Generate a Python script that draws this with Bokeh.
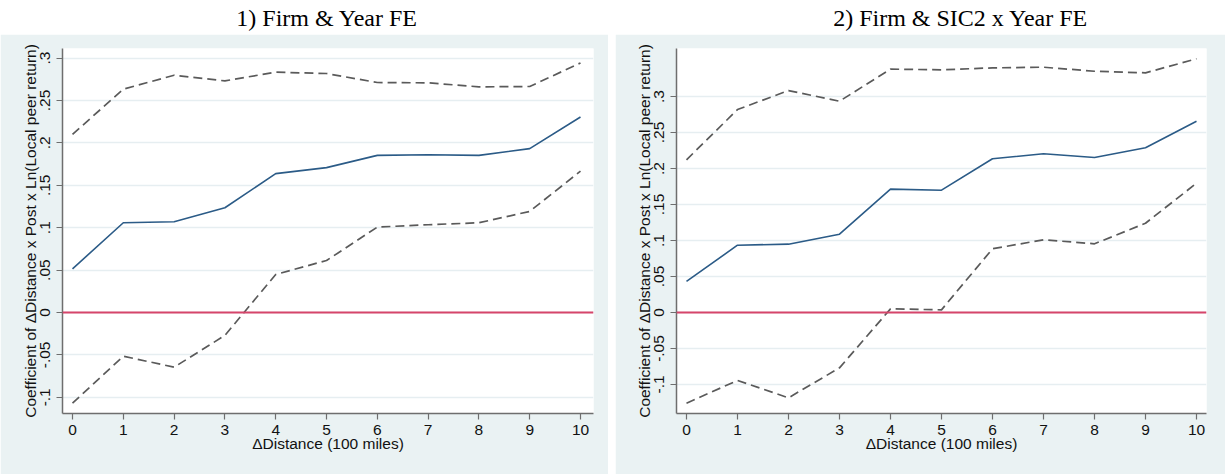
import math
from bokeh.plotting import figure
from bokeh.layouts import row, column
from bokeh.models import FixedTicker, Span
from bokeh.core.properties import value
from bokeh.embed import file_html
from bokeh.resources import INLINE

# ---------------- data ----------------
distance = [0, 1, 2, 3, 4, 5, 6, 7, 8, 9, 10]
x_tick_labels = ["0", "1", "2", "3", "4", "5", "6", "7", "8", "9", "10"]

y_ticks = [-0.1, -0.05, 0.0, 0.05, 0.1, 0.15, 0.2, 0.25, 0.3]
y_tick_labels = ["-.1", "-.05", "0", ".05", ".1", ".15", ".2", ".25", ".3"]

titles = ["1) Firm & Year FE", "2) Firm & SIC2 x Year FE"]
x_title = "\u0394Distance (100 miles)"
y_title = "Coefficient of \u0394Distance x Post x Ln(Local peer return)"

fe_coef = [0.0515, 0.1058, 0.1070, 0.1235, 0.1638, 0.1708, 0.1853, 0.1861, 0.1853, 0.1932, 0.2305]
fe_upper = [0.2101, 0.2633, 0.2798, 0.2731, 0.2834, 0.2818, 0.2712, 0.2708, 0.2661, 0.2665, 0.2943]
fe_lower = [-0.1069, -0.0515, -0.0645, -0.0270, 0.0448, 0.0613, 0.1007, 0.1035, 0.1058, 0.1192, 0.1667]

sic_coef = [0.0431, 0.0935, 0.0949, 0.1088, 0.1713, 0.1699, 0.2135, 0.2204, 0.2153, 0.2288, 0.2657]
sic_upper = [0.2121, 0.2819, 0.3083, 0.2935, 0.3380, 0.3371, 0.3398, 0.3407, 0.3351, 0.3329, 0.3524]
sic_lower = [-0.1260, -0.0944, -0.1185, -0.0769, 0.0051, 0.0037, 0.0885, 0.1010, 0.0954, 0.1240, 0.1796]

zero_level = 0.0

# ---------------- style ----------------
BG = "#EAF2F3"
GRID = "#E6EEF1"
NAVY = "#2B5B87"
GRAY = "#5A5A5A"
RED = "#D6456A"
AXIS = "#6E6E6E"
FONT = "Liberation Sans"
TITLE_H = 34
PLOT_H = 440


def title_fig(width, cx, text):
    tf = figure(width=width, height=TITLE_H, x_range=(0, width), y_range=(0, TITLE_H),
                x_axis_type=None, y_axis_type=None, toolbar_location=None,
                output_backend="svg", min_border=0, outline_line_color=None,
                background_fill_color="white", border_fill_color="white")
    tf.text(x=[cx], y=[TITLE_H - 17], text=[text], text_font=value("Liberation Serif"),
            text_font_size="24px", text_align="center", text_baseline="middle",
            text_color="black")
    return tf


def panel(width, left, right, xr, yr, coef, upper, lower):
    p = figure(width=width, height=PLOT_H, x_range=xr, y_range=yr,
               toolbar_location=None, output_backend="svg",
               min_border_left=left, min_border_right=right,
               min_border_top=14, min_border_bottom=61,
               background_fill_color="white", border_fill_color=BG,
               outline_line_color=None)
    p.xgrid.visible = False
    p.ygrid.ticker = FixedTicker(ticks=y_ticks)
    p.ygrid.grid_line_color = GRID
    p.ygrid.grid_line_width = 1.5

    p.xaxis.ticker = FixedTicker(ticks=distance)
    p.xaxis.major_label_overrides = dict(zip(distance, x_tick_labels))
    p.yaxis.ticker = FixedTicker(ticks=y_ticks)
    p.yaxis.major_label_overrides = dict(zip(y_ticks, y_tick_labels))
    p.yaxis.major_label_orientation = "parallel"

    for ax in (p.xaxis, p.yaxis):
        ax.axis_line_color = AXIS
        ax.axis_line_width = 1.5
        ax.major_tick_line_color = AXIS
        ax.major_tick_line_width = 1.2
        ax.major_tick_out = 6
        ax.major_tick_in = 0
        ax.minor_tick_line_color = None
        ax.major_label_text_font = FONT
        ax.major_label_text_font_size = "15.5px"
        ax.major_label_text_color = "#111111"
        ax.axis_label_text_font = FONT
        ax.axis_label_text_font_size = "15.5px"
        ax.axis_label_text_font_style = "normal"
        ax.axis_label_text_color = "#111111"
    p.xaxis.major_label_standoff = 5
    p.xaxis.axis_label_standoff = -3
    p.yaxis.major_label_standoff = 6
    p.yaxis.axis_label_standoff = -1
    p.xaxis.axis_label = x_title
    p.yaxis.axis_label = y_title

    p.line(distance, upper, line_color=GRAY, line_width=1.7, line_dash="9 5")
    p.line(distance, lower, line_color=GRAY, line_width=1.7, line_dash="9 5")
    p.line(distance, coef, line_color=NAVY, line_width=1.6)
    p.add_layout(Span(location=zero_level, dimension="width", line_color=RED, line_width=2))
    return p


p1 = panel(608, 62, 15, (-0.197, 10.256), (-0.1191, 0.3113), fe_coef, fe_upper, fe_lower)
p2 = panel(610, 61, 19, (-0.196, 10.196), (-0.1403, 0.3667), sic_coef, sic_upper, sic_lower)
t1 = title_fig(608, 303, titles[0])
t2 = title_fig(610, 327, titles[1])

layout = row(column(t1, p1, spacing=0), column(t2, p2, spacing=0), spacing=7)

open("out.html", "w").write(file_html(layout, INLINE))
